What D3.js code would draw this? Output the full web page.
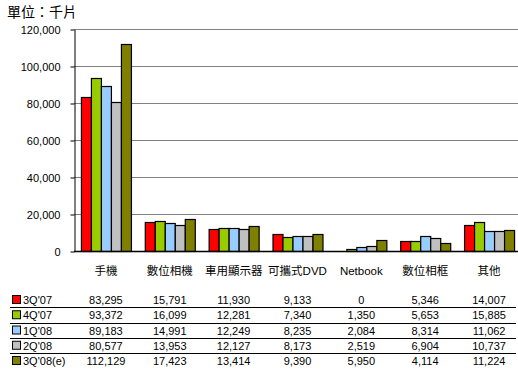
<!DOCTYPE html>
<html>
<head>
<meta charset="utf-8">
<script src="https://cdn.jsdelivr.net/npm/d3@7"></script>
<style>
  body { margin: 0; background: #fff; }
  text { font-family: Arial, "Liberation Sans", "Noto Sans CJK TC", sans-serif; fill: #000; }
</style>
</head>
<body>
<svg width="518" height="382"></svg>
<script>
// data
var categories = ["手機", "數位相機", "車用顯示器", "可攜式DVD", "Netbook", "數位相框", "其他"];
var seriesNames = ["3Q'07", "4Q'07", "1Q'08", "2Q'08", "3Q'08(e)"];
var q3_07 = [83295, 15791, 11930, 9133, 0, 5346, 14007];
var q4_07 = [93372, 16099, 12281, 7340, 1350, 5653, 15885];
var q1_08 = [89183, 14991, 12249, 8235, 2084, 8314, 11062];
var q2_08 = [80577, 13953, 12127, 8173, 2519, 6904, 10737];
var q3_08e = [112129, 17423, 13414, 9390, 5950, 4114, 11224];
var yTicks = [0, 20000, 40000, 60000, 80000, 100000, 120000];

var series = [q3_07, q4_07, q1_08, q2_08, q3_08e];
var colors = ["#ff0000", "#99cc00", "#99ccff", "#c0c0c0", "#808000"];

var svg = d3.select("svg");
var plot = {left: 74, right: 521, top: 29, bottom: 251};

var x = d3.scaleBand()
    .domain(categories)
    .range([plot.left, plot.right])
    .paddingInner(0.217)
    .paddingOuter(0.1085);
var xs = d3.scaleBand()
    .domain(seriesNames)
    .range([0, x.bandwidth()]);
var y = d3.scaleLinear()
    .domain([0, 120000])
    .range([plot.bottom, plot.top]);
var fmt = d3.format(",");

// title
svg.append("text")
    .attr("x", 7).attr("y", 17)
    .style("font-family", "'Noto Sans CJK TC', sans-serif")
    .style("font-size", "14px")
    .text("單位：千片");

// gridlines
svg.append("g").selectAll("line")
    .data(yTicks.slice(1))
    .enter().append("line")
    .attr("x1", plot.left).attr("x2", plot.right)
    .attr("y1", function(d){ return y(d) + 0.5; })
    .attr("y2", function(d){ return y(d) + 0.5; })
    .attr("stroke", "#808080");

// y axis
var yAxis = svg.append("g")
    .attr("transform", "translate(" + (plot.left + 0.5) + ",0.5)")
    .call(d3.axisLeft(y).tickValues(yTicks).tickFormat(fmt).tickSize(4).tickSizeOuter(0).tickPadding(10));
yAxis.select(".domain").attr("stroke", "#000");
yAxis.selectAll(".tick line").attr("stroke", "#000");
yAxis.selectAll("text").style("font-size", "11px").attr("fill", "#000");

// bars
var groups = svg.append("g").selectAll("g")
    .data(categories)
    .enter().append("g")
    .attr("transform", function(d){ return "translate(" + x(d) + ",0)"; });
groups.selectAll("rect")
    .data(function(c, ci){
        return series.map(function(s, si){ return {name: seriesNames[si], value: s[ci], color: colors[si]}; });
    })
    .enter().append("rect")
    .filter(function(d){ return d.value > 0; })
    .attr("x", function(d){ return xs(d.name) + 0.5; })
    .attr("y", function(d){ return Math.round(y(d.value)) + 0.5; })
    .attr("width", xs.bandwidth())
    .attr("height", function(d){ return plot.bottom - Math.round(y(d.value)); })
    .attr("fill", function(d){ return d.color; })
    .attr("stroke", "#000")
    .attr("stroke-width", 1.2);

// x axis line
svg.append("line")
    .attr("x1", plot.left).attr("x2", plot.right)
    .attr("y1", plot.bottom + 0.5).attr("y2", plot.bottom + 0.5)
    .attr("stroke", "#000").attr("stroke-width", 1.5);

// table header
svg.append("g").selectAll("text")
    .data(categories)
    .enter().append("text")
    .attr("x", function(d){ return x(d) + x.bandwidth() / 2; })
    .attr("y", 275)
    .attr("text-anchor", "middle")
    .style("font-size", "11.5px")
    .text(function(d){ return d; });

// table rows
var rowY = d3.scalePoint().domain(seriesNames).range([300, 361]);
var rows = svg.append("g").selectAll("g")
    .data(seriesNames)
    .enter().append("g")
    .attr("transform", function(d){ return "translate(0," + rowY(d) + ")"; });
rows.append("rect")
    .attr("x", 12.5).attr("y", -4.5)
    .attr("width", 8).attr("height", 8)
    .attr("fill", function(d, i){ return colors[i]; })
    .attr("stroke", "#000");
rows.append("text")
    .attr("x", 23).attr("y", 4)
    .style("font-size", "11px")
    .text(function(d){ return d; });
rows.selectAll(".val")
    .data(function(d, i){ return series[i]; })
    .enter().append("text")
    .attr("class", "val")
    .attr("x", function(d, i){ return x(categories[i]) + x.bandwidth() / 2; })
    .attr("y", 4)
    .attr("text-anchor", "middle")
    .style("font-size", "11px")
    .text(function(d){ return fmt(d); });

// row separators
svg.append("g").selectAll("line")
    .data(seriesNames.slice(1))
    .enter().append("line")
    .attr("x1", 10).attr("x2", 516)
    .attr("y1", function(d){ return Math.round(rowY(d) - 8) + 0.5; })
    .attr("y2", function(d){ return Math.round(rowY(d) - 8) + 0.5; })
    .attr("stroke", "#000");
</script>
</body>
</html>
